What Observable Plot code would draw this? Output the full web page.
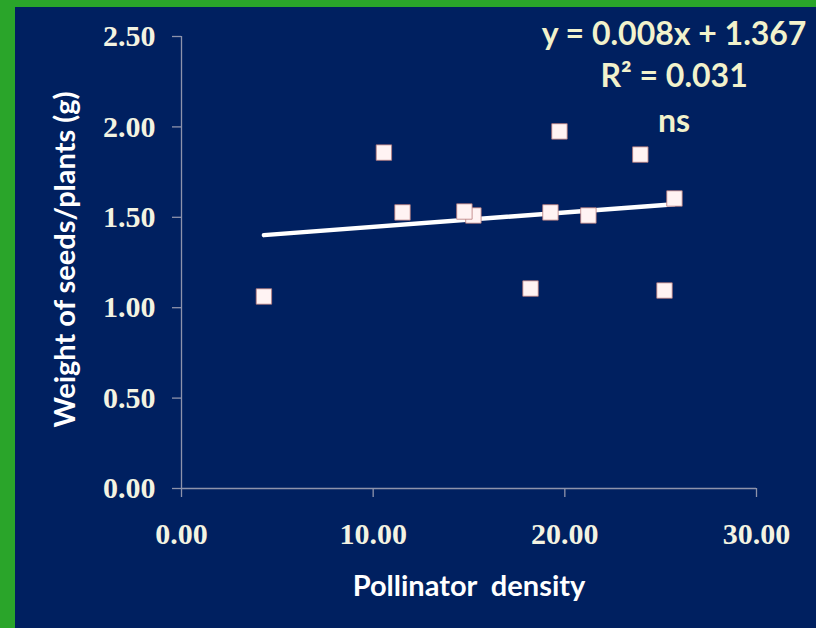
<!DOCTYPE html>
<html>
<head>
<meta charset="utf-8">
<script src="https://cdn.jsdelivr.net/npm/d3@7"></script>
<script src="https://cdn.jsdelivr.net/npm/@observablehq/plot@0.6"></script>
<style>
  html, body { margin: 0; padding: 0; background: #2aa52a; }
  #frame {
    width: 816px; height: 628px; box-sizing: border-box;
    padding: 7px 0 0 15px; background: #2aa52a; overflow: hidden;
  }
  #frame svg { display: block; }
</style>
</head>
<body>
<div id="frame"></div>
<script>
// Pollinator density at each site and the seed weight per plant (g)
const density    = [4.30, 10.56, 11.53, 15.23, 14.76, 18.21, 19.25, 19.72, 21.23, 23.94, 25.20, 25.72];
const seedWeight = [1.062, 1.858, 1.527, 1.510, 1.532, 1.106, 1.527, 1.975, 1.510, 1.847, 1.095, 1.604];

// Linear fit reported on the chart
const slope = 0.008;
const intercept = 1.367;
const rSquared = 0.031;
const significance = "ns";

const xTicks = [0, 10, 20, 30];
const yTicks = [0, 0.5, 1, 1.5, 2, 2.5];

const points = density.map((d, i) => ({density: d, weight: seedWeight[i]}));
const xMin = d3.min(density), xMax = d3.max(density);
const fit = [xMin, xMax].map(x => ({density: x, weight: intercept + slope * x}));

const annotations = [
  `y = ${slope.toFixed(3)}x + ${intercept.toFixed(3)}`,
  `R² = ${rSquared.toFixed(3)}`,
  significance
];

const navy = "#002060";
const axisGrey = "#8e93ab";
const tickText = "#f3f3e2";
const noteText = "#f2f2cc";
const sans = "Lato, 'Open Sans', sans-serif";
const serif = "'Liberation Serif', 'DejaVu Serif', serif";

const chart = Plot.plot({
  width: 801,
  height: 621,
  marginLeft: 166,
  marginRight: 60,
  marginTop: 29,
  marginBottom: 140,
  style: {background: navy, color: "#ffffff", overflow: "visible"},
  x: {domain: [0, 30]},
  y: {domain: [0, 2.5]},
  marks: [
    Plot.ruleX([0], {y1: 0, y2: 2.5, stroke: axisGrey, strokeWidth: 1.3}),
    Plot.ruleY([0], {x1: 0, x2: 30, stroke: axisGrey, strokeWidth: 1.3}),
    Plot.axisY({
      ticks: yTicks, tickFormat: d3.format(".2f"), tickSize: 9, tickPadding: 17,
      stroke: axisGrey, strokeWidth: 1.3, fill: tickText,
      fontFamily: serif, fontWeight: "bold", fontSize: 30, label: null
    }),
    Plot.axisX({
      ticks: xTicks, tickFormat: d3.format(".2f"), tickSize: 9, tickPadding: 25,
      stroke: axisGrey, strokeWidth: 1.3, fill: tickText,
      fontFamily: serif, fontWeight: "bold", fontSize: 30, label: null
    }),
    Plot.line(fit, {
      x: "density", y: "weight", stroke: "#ffffff", strokeWidth: 4.5, strokeLinecap: "round"
    }),
    Plot.dot(points, {
      x: "density", y: "weight", symbol: "square", r: 8.7,
      fill: "#fff3f3", stroke: "#b87a7a", strokeWidth: 0.8
    }),
    Plot.text(annotations, {
      x: 25.7, y: [2.508, 2.276, 2.029], text: d => d,
      fill: noteText, fontFamily: sans, fontWeight: "bold", fontSize: 32,
      textAnchor: "middle", lineAnchor: "middle"
    }),
    Plot.text(["Weight of seeds/plants (g)"], {
      frameAnchor: "left", dx: -116, dy: -3, rotate: -90,
      fill: "#ffffff", fontFamily: sans, fontWeight: "bold", fontSize: 29,
      textAnchor: "middle", lineAnchor: "middle"
    }),
    Plot.text(["Pollinator\u00a0 density"], {
      frameAnchor: "bottom", dy: 98,
      fill: "#ffffff", fontFamily: sans, fontWeight: "bold", fontSize: 29,
      textAnchor: "middle", lineAnchor: "middle"
    })
  ]
});

document.getElementById("frame").appendChild(chart);
</script>
</body>
</html>
